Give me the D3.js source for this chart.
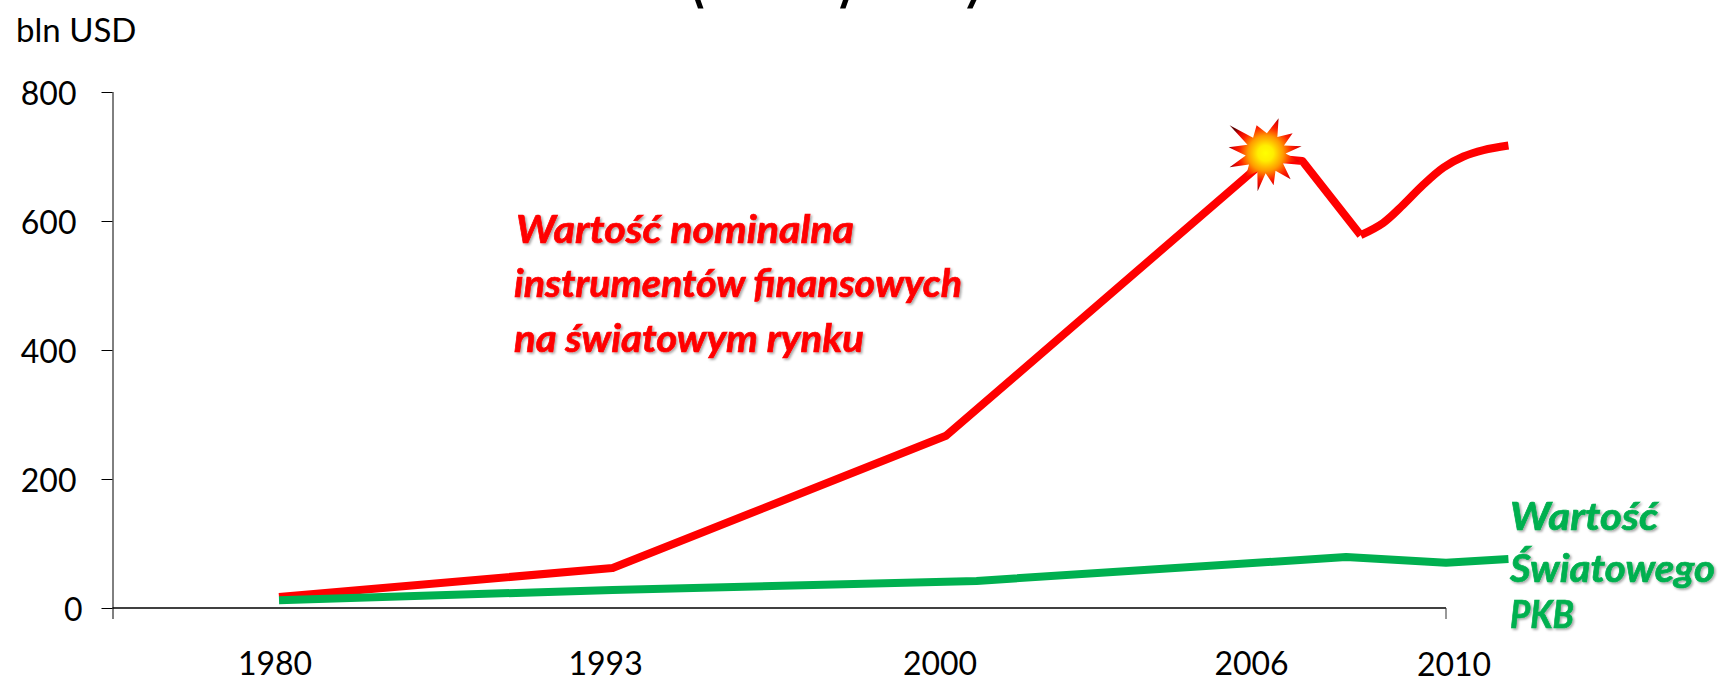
<!DOCTYPE html>
<html><head><meta charset="utf-8">
<script src="https://cdn.jsdelivr.net/npm/d3@7"></script>
<style>html,body{margin:0;padding:0;background:#fff;overflow:hidden}svg{display:block}text{font-family:Lato,"Open Sans",sans-serif}</style>
</head><body><svg id="c" width="1722" height="682"></svg>
<script>
const yTicks=[0,200,400,600,800];
const xYears=[1980,1993,2000,2006,2010];
const xTickLabels=["1980","1993","2000","2006","2010"];
const redYears=[1980,1993,2000,2005.8,2006.55,2007.95];
const redValues=[17,62,267,698,693,578];
const redCurveYears=[2007.95,2008.49,2008.97,2009.45,2009.94,2010.42,2010.9,2011.5];
const redCurveValues=[578,597,625,656,683,700,710,717];
const greenYears=[1980,1993,2000.55,2007.6,2010,2011.5];
const greenValues=[12,28,42,79,70,76];
const redLabel=["Wartość nominalna","instrumentów finansowych","na światowym rynku"];
const greenLabel=["Wartość","Światowego","PKB"];
const unitLabel="bln USD";

const svg=d3.select("#c");
const x=d3.scaleLinear().domain(xYears).range([279,612.6,946,1279.5,1446]);
const y=d3.scaleLinear().domain([0,800]).range([608,92]);
const axisLeftX=112.5;

const defs=svg.append("defs");
const f=defs.append("filter").attr("id","shadow").attr("x","-5%").attr("y","-10%").attr("width","110%").attr("height","130%");
f.append("feDropShadow").attr("dx",1.6).attr("dy",1.6).attr("stdDeviation",0.9).attr("flood-color","#000").attr("flood-opacity",0.35);
const g=defs.append("radialGradient").attr("id","burst").attr("gradientUnits","userSpaceOnUse").attr("cx",0).attr("cy",0).attr("r",39);
[[0,"#ffff00"],[0.2,"#ffee00"],[0.45,"#ff9a00"],[0.68,"#ff2000"],[0.85,"#e00000"],[1,"#600000"]].forEach(d=>g.append("stop").attr("offset",d[0]).attr("stop-color",d[1]));

// y axis
const ya=svg.append("g").attr("transform",`translate(${axisLeftX},0)`).call(d3.axisLeft(y).tickValues(yTicks).tickSize(11).tickPadding(16).tickFormat(d3.format("d")));
ya.selectAll("path").attr("stroke","#000").attr("stroke-width",1).attr("d",`M0.5,${y(800)}V${y(0)+11}`);
ya.selectAll("line").attr("stroke","#000");
ya.selectAll("text").attr("font-size",32).attr("fill","#000").attr("dx",d=>d===0?-3:-9).attr("dy",d=>d===0?"0.4em":"0.38em");

// x axis
const xa=svg.append("g").attr("transform",`translate(0,${y(0)})`);
xa.append("line").attr("x1",axisLeftX).attr("x2",x(2010)).attr("stroke","#000").attr("stroke-width",1.4);
xa.append("line").attr("x1",x(2010)).attr("x2",x(2010)).attr("y1",0).attr("y2",11).attr("stroke","#333");
xa.selectAll("text.tick").data(xYears).join("text").attr("class","tick")
  .attr("x",(d,i)=>x(d)+[-4,-7,-6,-28,8][i]).attr("y",(d,i)=>i==4?67.5:67)
  .attr("text-anchor","middle").attr("font-size",32).attr("fill","#000").text((d,i)=>xTickLabels[i]);

const line=d3.line().x(d=>x(d[0])).y(d=>y(d[1]));
svg.append("path").attr("d",line(d3.zip(redYears,redValues))).attr("fill","none").attr("stroke","#ff0000").attr("stroke-width",8).attr("stroke-linejoin","round");
svg.append("path").attr("d",line.curve(d3.curveCatmullRom)(d3.zip(redCurveYears,redCurveValues))).attr("fill","none").attr("stroke","#ff0000").attr("stroke-width",8);
line.curve(d3.curveLinear);
svg.append("path").attr("d",line(d3.zip(greenYears,greenValues))).attr("fill","none").attr("stroke","#00b050").attr("stroke-width",8).attr("stroke-linejoin","round");

// explosion marker at the peak: alternating outer tips and inner notches
const tipX=[-36,-9,13,27,36,34,25,8,-8,-20,-36,-37];
const tipY=[-28,-28,-35,-20,-7,8,26,32,38,24,14,-6];
const pts=[];
tipX.forEach((tx,i)=>{
  const j=(i+1)%tipX.length;
  pts.push([tx,tipY[i]]);
  const mx=(tx+tipX[j])/2,my=(tipY[i]+tipY[j])/2,m=Math.hypot(mx,my);
  pts.push([mx/m*20,my/m*20]);
});
svg.append("path").attr("transform",`translate(${x(2005.75)},${y(705)})`)
  .attr("d",d3.line().curve(d3.curveLinearClosed)(pts)).attr("fill","url(#burst)");

// labels
function lab(lines,xp,ys,widths,color,size){
  const t=svg.append("g").attr("filter","url(#shadow)");
  lines.forEach((s,i)=>t.append("text").attr("x",xp[i]).attr("y",ys[i]).attr("font-size",size).attr("font-weight",700).attr("font-style","italic")
    .attr("fill",color).attr("stroke",color).attr("stroke-width",0.7)
    .attr("textLength",widths[i]).attr("lengthAdjust","spacingAndGlyphs").text(s));
}
lab(redLabel,[516,514,514],[243,297,352],[338,448,350],"#ff0000",39);
lab(greenLabel,[1510,1510,1510],[530,582,628],[148,205,64],"#00b050",39);
svg.append("text").attr("x",16).attr("y",42).attr("font-size",33).attr("fill","#000").text(unitLabel);

// slivers left by the cropped title at the top edge
const sliverTopX=[695,843,971];
const sliverBottomX=[698,840,967];
svg.selectAll("path.sliver").data(sliverTopX).join("path").attr("class","sliver")
  .attr("d",(d,i)=>`M${d},0H${d+5.5}L${sliverBottomX[i]+5.5},8.5H${sliverBottomX[i]}Z`).attr("fill","#000");
</script></body></html>
